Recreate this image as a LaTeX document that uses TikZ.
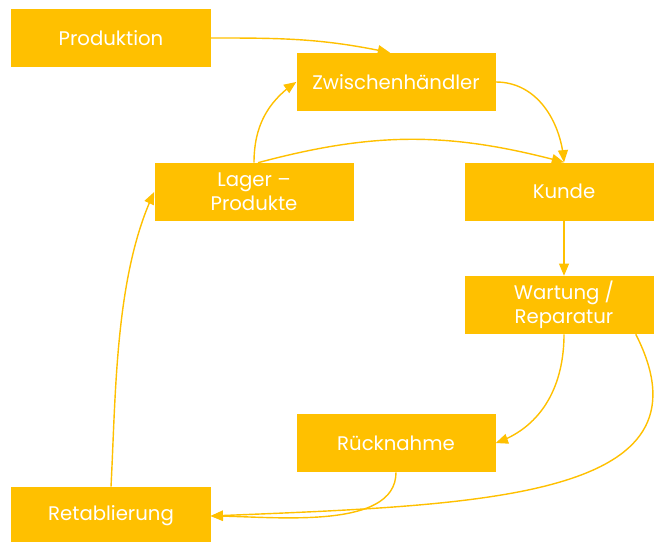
\documentclass[tikz,border=0pt]{standalone}
\usepackage{fontspec}
\setmainfont{Poppins}
\usetikzlibrary{arrows}
\definecolor{gold}{HTML}{FFC000}
\tikzset{bx/.append style={fill=gold,text=white,minimum width=4.975cm,minimum height=1.45cm,inner sep=0.05cm,align=center,font=\fontsize{14}{17}\selectfont}}
\tikzset{ln/.append style={draw=gold,line width=1pt,-triangle 45}}

\begin{document}
\begin{tikzpicture}
                \useasboundingbox (0,0) rectangle (16.35,-13.55);
                % boxes
                \node[bx] (prod) at (2.775,-0.95) {Produktion};
                \node[bx] (zwh) at (9.9,-2.05) {Zwischenhändler};
                \node[bx] (lager) at (6.35,-4.8) {Lager –\\Produkte};
                \node[bx] (kunde) at (14.1,-4.79) {Kunde};
                \node[bx] (wart) at (14.1,-7.625) {Wartung /\\Reparatur};
                \node[bx] (rueck) at (9.9,-11.075) {Rücknahme};
                \node[bx] (retab) at (2.775,-12.9) {Retablierung};
                \path (prod) edge[ln,out=0,in=168] ([xshift=-0.15cm]zwh.north);
                \path (lager.north) edge[ln,out=90,in=215] (zwh.west);
                \path ([xshift=0.1cm]lager.north) edge[ln,out=15,in=165] (kunde.north);
                \path (zwh.east) edge[ln,out=0,in=95] (kunde.north);
                \path (kunde) edge[ln] (wart);
                \path (wart.south) edge[ln,out=-90,in=20] (rueck.east);
                \draw[ln] ([xshift=-0.7cm]wart.south east) .. controls (18,-12.5) and (12,-12.625) .. (retab.east);
                \path (rueck.south) edge[ln,out=-90,in=0,looseness=0.8] (retab.east);
                \path (retab.north) edge[ln,out=87,in=245,looseness=0.8] (lager.west);
            \end{tikzpicture}
\end{document}
